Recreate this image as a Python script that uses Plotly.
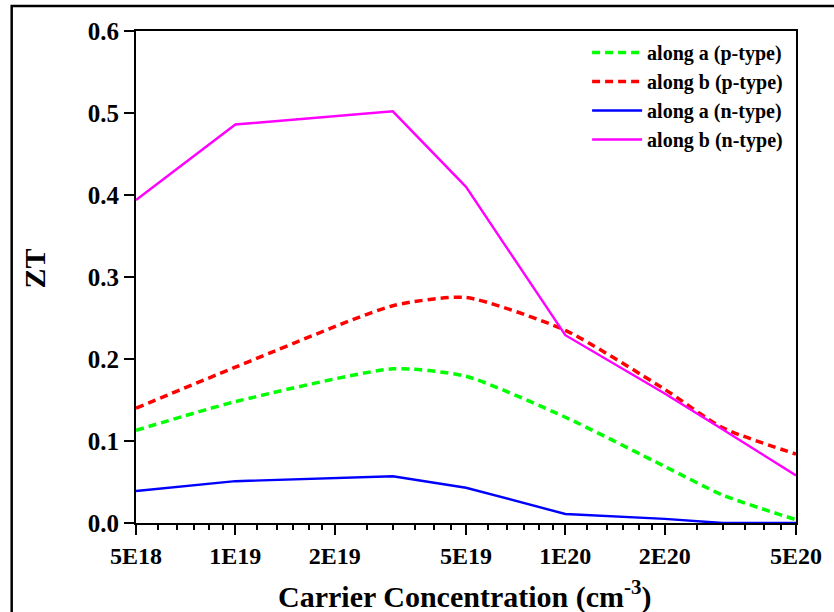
import plotly.graph_objects as go

# Data
carrier = [5e18, 1e19, 3e19, 5e19, 1e20, 2e20, 3e20, 5e20]
zt_a_p = [0.113, 0.148, 0.188, 0.179, 0.129, 0.069, 0.034, 0.004]
zt_b_p = [0.140, 0.190, 0.265, 0.275, 0.235, 0.163, 0.116, 0.084]
zt_a_n = [0.039, 0.051, 0.057, 0.043, 0.011, 0.005, 0.000, 0.000]
zt_b_n = [0.394, 0.486, 0.502, 0.410, 0.229, 0.158, 0.114, 0.058]

x_ticks = [5e18, 1e19, 2e19, 5e19, 1e20, 2e20, 5e20]
x_labels = ["5E18", "1E19", "2E19", "5E19", "1E20", "2E20", "5E20"]
y_ticks = [0.0, 0.1, 0.2, 0.3, 0.4, 0.5, 0.6]

# minor ticks: 5 linear subdivisions between major ticks
minor_vals = []
for a, b in zip(x_ticks[:-1], x_ticks[1:]):
    for k in range(1, 6):
        minor_vals.append(a + k * (b - a) / 6)

FONT = "Liberation Serif"

fig = go.Figure()
fig.add_trace(go.Scatter(x=carrier, y=zt_a_p, mode="lines", name="<b>along a (p-type)</b>",
                         line=dict(color="#00FF00", width=3.5, dash="8px,5px", shape="spline", smoothing=0.6)))
fig.add_trace(go.Scatter(x=carrier, y=zt_b_p, mode="lines", name="<b>along b (p-type)</b>",
                         line=dict(color="#FF0000", width=3.5, dash="8px,5px", shape="spline", smoothing=0.6)))
fig.add_trace(go.Scatter(x=carrier, y=zt_a_n, mode="lines", name="<b>along a (n-type)</b>",
                         line=dict(color="#0000FF", width=2.4)))
fig.add_trace(go.Scatter(x=carrier, y=zt_b_n, mode="lines", name="<b>along b (n-type)</b>",
                         line=dict(color="#FF00FF", width=2.4)))

L, R, T, B = 136, 29, 31, 89
W, H = 834, 612
pw, ph = W - L - R, H - T - B

fig.update_layout(
    width=W, height=H,
    margin=dict(l=L, r=R, t=T, b=B),
    paper_bgcolor="white", plot_bgcolor="white",
    font=dict(family=FONT, color="black"),
    showlegend=True,
    legend=dict(x=(797 - L) / pw, y=(H - B - 33) / ph, xanchor="right", yanchor="top",
                bgcolor="rgba(0,0,0,0)", font=dict(family=FONT, size=20, color="black"),
                itemwidth=50, tracegroupgap=0),
    xaxis=dict(type="log", range=[18.69897, 20.69897],
               tickmode="array", tickvals=x_ticks, ticktext=[f"<b>{t}</b>" for t in x_labels],
               ticks="outside", ticklen=10, tickwidth=2, tickcolor="black",
               showline=True, linewidth=2, linecolor="black", mirror=True,
               showgrid=False, zeroline=False,
               tickfont=dict(family=FONT, size=24, color="black"),
               minor=dict(tickmode="array", tickvals=minor_vals, ticks="outside",
                          ticklen=5, tickwidth=2, tickcolor="black", showgrid=False)),
    yaxis=dict(range=[0, 0.6], tickmode="array", tickvals=y_ticks,
               ticktext=[f"<b>{v:.1f}</b>" for v in y_ticks],
               ticks="outside", ticklen=10, tickwidth=2, tickcolor="black",
               showline=True, linewidth=2, linecolor="black", mirror=True,
               showgrid=False, zeroline=False,
               tickfont=dict(family=FONT, size=25, color="black")),
)

# axis titles
fig.add_annotation(text="<b>Carrier Concentration (cm<sup>-3</sup>)</b>", xref="paper", yref="paper",
                   x=(469 - L) / pw, y=-(594 - (H - B)) / ph, xanchor="center", yanchor="middle",
                   showarrow=False, font=dict(family=FONT, size=30, color="black"))
fig.add_annotation(text="<b>ZT</b>", xref="paper", yref="paper", textangle=-90,
                   x=-(L - 33) / pw, y=(H - B - 268) / ph, xanchor="center", yanchor="middle",
                   showarrow=False, font=dict(family=FONT, size=30, color="black"))

# outer frame of the figure
fig.add_shape(type="rect", xref="paper", yref="paper",
              x0=-(L - 10) / pw, x1=(W + 20 - L) / pw,
              y0=-(B + 20) / ph, y1=(H - B - 6) / ph,
              line=dict(color="black", width=2.5), fillcolor="rgba(0,0,0,0)", layer="above")

fig.write_html("out.html")
